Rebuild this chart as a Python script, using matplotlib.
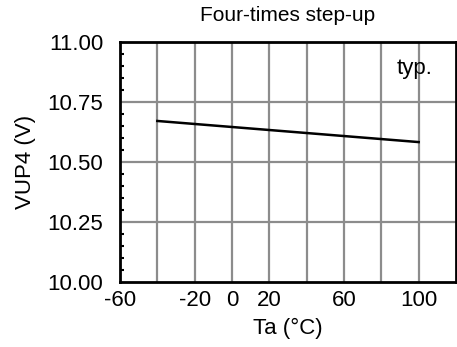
import numpy as np
import matplotlib.pyplot as plt
from matplotlib.ticker import MultipleLocator

plt.rcParams['font.family'] = ['Liberation Sans', 'DejaVu Sans']
plt.rcParams['axes.unicode_minus'] = False

# data
temp = [-40, 100]
vup4 = [10.671, 10.583]

x_ticks = [-60, -20, 0, 20, 60, 100]
y_ticks = [10.00, 10.25, 10.50, 10.75, 11.00]

fig = plt.figure(figsize=(4.57, 3.47), dpi=100)
ax = fig.add_axes([120 / 457, 1 - 282 / 347, 336 / 457, 240 / 347])

ax.plot(temp, vup4, color='black', lw=1.8, zorder=3)

ax.set_xlim(-60, 120)
ax.set_ylim(10.0, 11.0)
ax.set_xticks(x_ticks)
ax.set_yticks(y_ticks)
ax.set_yticklabels(['%.2f' % v for v in y_ticks])
ax.yaxis.set_minor_locator(MultipleLocator(0.05))

# grid every 20 deg and every 0.25 V
for gx in np.arange(-40, 120, 20):
    ax.axvline(gx, color='#8c8c8c', lw=1.6, zorder=1)
for gy in [10.25, 10.5, 10.75]:
    ax.axhline(gy, color='#8c8c8c', lw=1.6, zorder=1)

ax.tick_params(axis='x', which='major', length=0, labelsize=16, pad=6)
ax.tick_params(axis='y', which='major', length=0, labelsize=16, pad=12)
ax.tick_params(axis='y', which='minor', direction='in', length=3, width=1.5, left=True)

for s in ax.spines.values():
    s.set_linewidth(2)
    s.set_color('black')

ax.set_xlabel('Ta (°C)', fontsize=16, labelpad=5)
ax.set_ylabel('VUP4 (V)', fontsize=16, labelpad=8)
ax.set_title('Four-times step-up', fontsize=15, pad=15)
ax.text(98, 10.89, 'typ.', fontsize=16, ha='center', va='center')

fig.savefig('out.png', dpi=100)
